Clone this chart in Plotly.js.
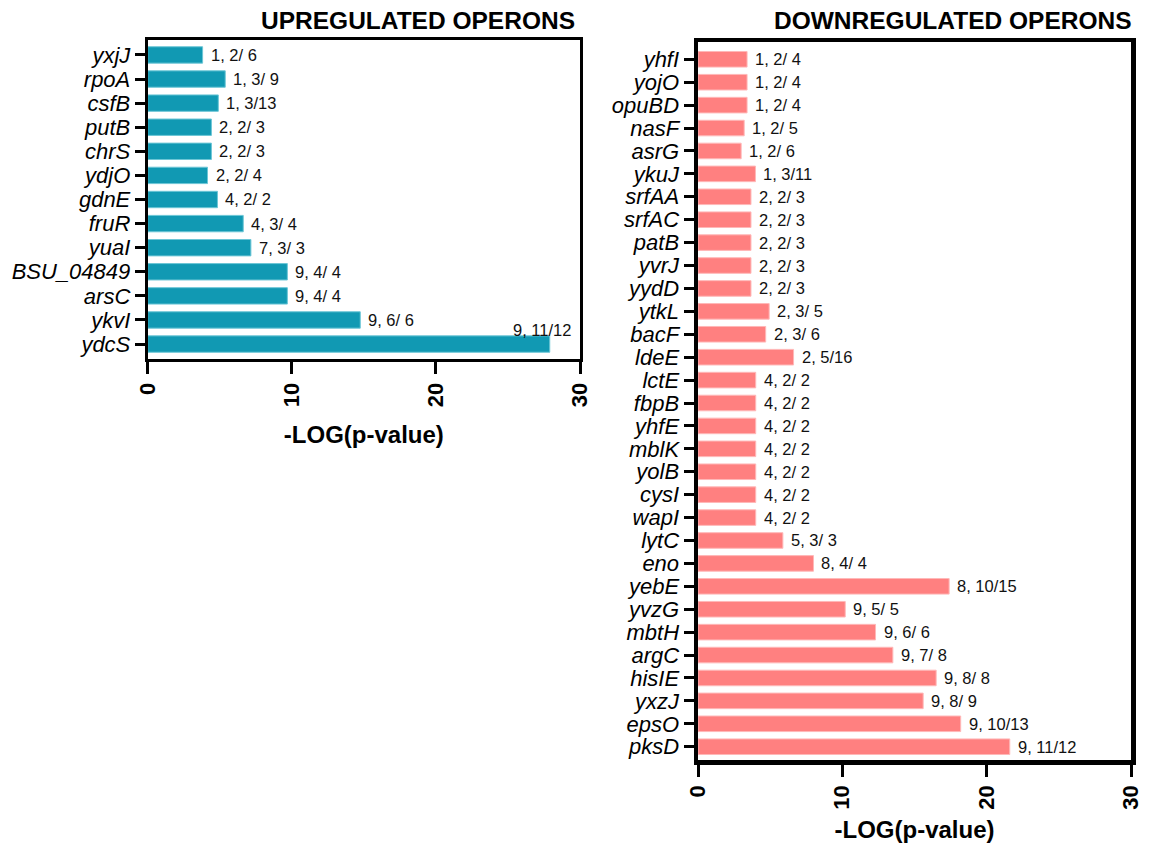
<!DOCTYPE html>
<html>
<head>
<meta charset="utf-8">
<script src="https://cdn.plot.ly/plotly-3.0.1.min.js"></script>
<style>html,body{margin:0;padding:0;background:#fff;}#chart{width:1149px;height:843px;}</style>
</head>
<body>
<div id="chart"></div>
<script>
const upGenes = ['yxjJ','rpoA','csfB','putB','chrS','ydjO','gdnE','fruR','yuaI','BSU_04849','arsC','ykvI','ydcS'];
const upValues = [3.81,5.38,4.90,4.42,4.42,4.15,4.84,6.63,7.16,9.69,9.69,14.75,27.9];
const upLabels = ['1, 2/ 6','1, 3/ 9','1, 3/13','2, 2/ 3','2, 2/ 3','2, 2/ 4','4, 2/ 2','4, 3/ 4','7, 3/ 3','9, 4/ 4','9, 4/ 4','9, 6/ 6','9, 11/12'];

const downGenes = ['yhfI','yojO','opuBD','nasF','asrG','ykuJ','srfAA','srfAC','patB','yvrJ','yydD','ytkL','bacF','ldeE','lctE','fbpB','yhfE','mblK','yolB','cysI','wapI','lytC','eno','yebE','yvzG','mbtH','argC','hisIE','yxzJ','epsO','pksD'];
const downValues = [3.4,3.4,3.4,3.2,2.99,3.98,3.67,3.67,3.67,3.67,3.67,4.93,4.69,6.62,4.0,4.0,4.0,4.0,4.0,4.0,4.0,5.88,8.0,17.4,10.2,12.3,13.5,16.5,15.6,18.2,21.6];
const downLabels = ['1, 2/ 4','1, 2/ 4','1, 2/ 4','1, 2/ 5','1, 2/ 6','1, 3/11','2, 2/ 3','2, 2/ 3','2, 2/ 3','2, 2/ 3','2, 2/ 3','2, 3/ 5','2, 3/ 6','2, 5/16','4, 2/ 2','4, 2/ 2','4, 2/ 2','4, 2/ 2','4, 2/ 2','4, 2/ 2','4, 2/ 2','5, 3/ 3','8, 4/ 4','8, 10/15','9, 5/ 5','9, 6/ 6','9, 7/ 8','9, 8/ 8','9, 8/ 9','9, 10/13','9, 11/12'];

const xTicks = [0, 10, 20, 30];
const titles = ['UPREGULATED OPERONS', 'DOWNREGULATED OPERONS'];
const xTitle = '-LOG(p-value)';

const FONT = 'Liberation Sans, Arial, Helvetica, sans-serif';
const W = 1149, H = 843;
const TEAL = '#1199B3', SALMON = '#FF8080';

const traces = [
  {type:'bar', orientation:'h', y:upGenes, x:upValues, xaxis:'x', yaxis:'y',
   marker:{color:TEAL, line:{color:'#6CC6D6', width:1}}, hoverinfo:'x+y'},
  {type:'bar', orientation:'h', y:downGenes, x:downValues, xaxis:'x2', yaxis:'y2',
   marker:{color:SALMON, line:{color:'#FFB8B8', width:1}}, hoverinfo:'x+y'}
];

function xAxis(dom, lw, anchor) {
  return {domain:dom, anchor:anchor, range:[0,30], tickvals:xTicks, ticktext:xTicks.map(String),
    tickangle:-90, ticks:'outside', ticklen:12, tickwidth:3, tickcolor:'#000',
    showline:true, linewidth:lw, linecolor:'#000', mirror:true, showgrid:false, zeroline:false,
    tickfont:{family:FONT, size:22, color:'#000', weight:'bold'},
    title:{text:'<b>'+xTitle+'</b>', font:{family:FONT, size:24, color:'#000'}, standoff:20}, fixedrange:true};
}
function yAxis(dom, lw, anchor, range, cats) {
  return {domain:dom, anchor:anchor, type:'category', range:range,
    tickmode:'array', tickvals:cats, ticktext:cats,
    ticks:'outside', ticklen:10, tickwidth:3, tickcolor:'#000',
    showline:true, linewidth:lw, linecolor:'#000', mirror:true, showgrid:false, zeroline:false,
    tickfont:{family:FONT, size:22, color:'#000', style:'italic'}, fixedrange:true};
}

const lx = [147.7/W, 580/W], rx = [698/W, 1131/W];
const ly = [1-359/H, 1-40/H], ry = [1-760/H, 1-42/H];

const annotations = [];
function addLabels(genes, vals, labels, xref, yref) {
  genes.forEach((g, i) => {
    const v = vals[i];
    const above = v > 25;
    annotations.push({x:v, y:g, xref:xref, yref:yref, text:labels[i], showarrow:false,
      xanchor: above ? 'center' : 'left', xshift: above ? -8 : 6, yshift: above ? 14 : 0,
      font:{family:FONT, size:16.5, color:'#111'}});
  });
}
addLabels(upGenes, upValues, upLabels, 'x', 'y');
addLabels(downGenes, downValues, downLabels, 'x2', 'y2');

annotations.push({xref:'paper', yref:'paper', x:lx[1]-3/W, y:1-20/H, xanchor:'right', yanchor:'middle',
  text:'<b>'+titles[0]+'</b>', showarrow:false, font:{family:FONT, size:24.5, color:'#000'}});
annotations.push({xref:'paper', yref:'paper', x:rx[1]+3/W, y:1-20/H, xanchor:'right', yanchor:'middle',
  text:'<b>'+titles[1]+'</b>', showarrow:false, font:{family:FONT, size:24.5, color:'#000'}});

const layout = {
  width:W, height:H, margin:{l:0, r:0, t:0, b:0}, paper_bgcolor:'#fff', plot_bgcolor:'#fff',
  showlegend:false, bargap:0.32,
  xaxis: xAxis(lx, 3, 'y'),
  yaxis: yAxis(ly, 3, 'x', [12.62, -0.62], upGenes),
  xaxis2: xAxis(rx, 4.5, 'y2'),
  yaxis2: yAxis(ry, 4.5, 'x2', [30.58, -0.755], downGenes),
  annotations: annotations
};

Plotly.newPlot('chart', traces, layout, {displayModeBar:false, staticPlot:true});
</script>
</body>
</html>
